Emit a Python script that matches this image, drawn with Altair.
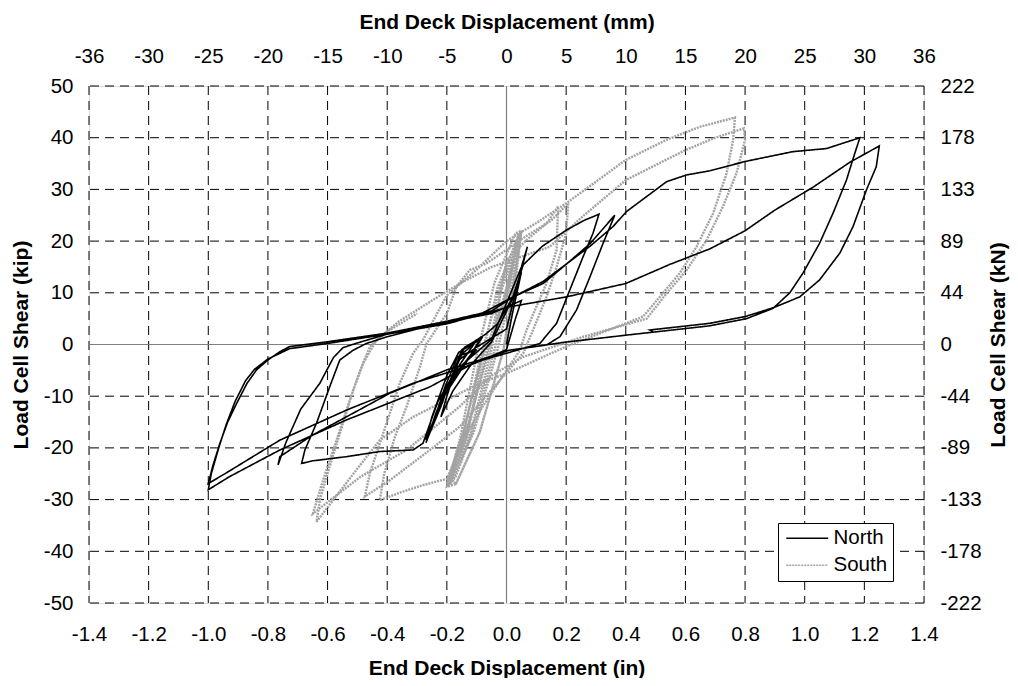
import json
import altair as alt
import pandas as pd

# ---------------- data ----------------
north_x = [0.00, 0.02, 0.05, 0.03, -0.05, -0.12, -0.18, -0.22, -0.20, -0.16, -0.10, 0.00, 0.03, 0.07, 0.05,
           -0.05, -0.15, -0.22, -0.27, -0.25, -0.20, -0.16, -0.09, -0.12, -0.20, -0.25, -0.23, -0.19, -0.15,
           -0.10, -0.18, -0.24, -0.26, -0.22, -0.17, -0.14, -0.08,
           -0.13, -0.21, -0.265, -0.245, -0.205, -0.165, -0.11, -0.17, -0.235, -0.27, -0.24, -0.19,
           -0.15, -0.07,
           -0.03, 0.02, 0.056, 0.12, 0.20, 0.26, 0.31, 0.29, 0.257, 0.212, 0.168, 0.112, 0.0, -0.08, -0.17,
           -0.23, -0.28, -0.313, -0.425, -0.537, -0.65, -0.687, -0.676, -0.637, -0.593, -0.559, -0.514, -0.47,
           -0.40, -0.30, -0.20, -0.10, 0.022, 0.123, 0.20, 0.28, 0.363, 0.324, 0.28, 0.235, 0.179, 0.134, 0.01,
           -0.09, -0.20, -0.39, -0.537, -0.65, -0.76, -0.766, -0.74, -0.69, -0.626, -0.58, -0.548, -0.50, -0.40,
           -0.20, -0.05, 0.05, 0.03, 0.0, -0.134, -0.313, -0.537, -0.76, -0.93, -1.0,
           -0.985, -0.961, -0.935, -0.905, -0.87, -0.838, -0.80, -0.76, -0.727, -0.604, -0.40, -0.20, -0.05,
           0.022, 0.123, 0.28,
           0.357, 0.402, 0.537, 0.604, 0.682, 0.80, 0.96, 1.073, 1.185,
           1.168, 1.14, 1.095, 1.05, 0.994, 0.95, 0.894, 0.805, 0.68, 0.40, 0.19, 0.01, -0.09, -0.257, -0.537,
           -0.76, -0.93, -1.0,
           -0.99, -0.965, -0.94, -0.91, -0.875, -0.845, -0.80, -0.727, -0.60, -0.40, -0.20, 0.011, 0.20, 0.40,
           0.548, 0.682, 0.80, 0.90, 1.03, 1.15, 1.25,
           1.24, 1.207, 1.162, 1.118, 1.05, 0.983, 0.894, 0.80, 0.682, 0.48, 0.49]
north_y = [0.0, 6.0, 14.0, 10.0, 0.5, -4.0, -9.0, -14.0, -10.0, -3.0, -0.5, 3.0, 10.0, 18.9, 15.0,
           1.0, -4.0, -11.0, -18.5, -14.0, -6.0, -1.5, 0.9, -2.0, -8.0, -16.0, -13.0, -7.0, -2.0,
           -1.0, -6.0, -14.0, -17.5, -12.0, -4.0, -0.5, 1.5,
           -3.0, -10.0, -18.0, -15.0, -8.0, -2.5, 0.0, -5.0, -13.0, -19.0, -14.5, -7.5,
           -1.0, 2.0,
           4.0, 9.0, 15.4, 19.0, 22.1, 24.0, 25.2, 21.5, 17.0, 10.5, 4.1, 0.2, -1.7, -3.0, -5.0,
           -11.0, -19.1, -20.4, -20.7, -21.7, -22.5, -23.0, -20.4, -15.2, -8.2, -3.0, -1.1, 0.2,
           1.5, 3.0, 4.5, 5.5, 9.2, 11.8, 15.5, 19.5, 25.0, 19.6, 13.1, 6.7, 1.5, -0.1, -1.1,
           -3.0, -4.9, -9.4, -14.0, -17.5, -21.7, -23.3, -19.0, -12.5, -7.5, -2.5, -0.6, 0.3, 2.0,
           4.3, 6.0, 8.5, 5.0, -1.0, -4.3, -7.5, -12.7, -18.5, -24.5, -26.9,
           -23.5, -19.1, -15.0, -11.4, -7.5, -4.9, -3.0, -1.4, -0.4, 0.5, 2.2, 4.5, 6.5,
           9.2, 12.2, 19.0,
           22.8, 25.7, 31.5, 32.8, 33.6, 35.4, 37.3, 37.9, 40.0,
           37.0, 31.8, 25.4, 19.6, 13.8, 10.0, 7.0, 5.0, 3.6, 1.8, 0.4, -1.1, -3.0, -8.2, -14.6,
           -20.4, -25.6, -28.1,
           -25.0, -20.0, -15.5, -11.0, -7.0, -4.8, -2.8, -0.8, 0.2, 2.0, 4.0, 7.3, 9.2, 11.8,
           15.5, 18.5, 22.0, 26.0, 30.5, 35.2, 38.4,
           34.4, 29.9, 22.8, 17.7, 12.5, 9.2, 7.1, 5.4, 4.1, 2.8, 2.5]

south_x = [0.0, 0.03, 0.05,
           0.02, -0.01, -0.09, -0.17,
           -0.20, -0.155, -0.10, -0.04, 0.03,
           0.05, 0.02, -0.01, -0.09, -0.17,
           -0.18, -0.13, -0.08, -0.03, 0.04,
           0.045, 0.01, -0.03, -0.11, -0.19,
           -0.20, -0.14, -0.06, 0.0, 0.05,
           0.04, -0.02, -0.05, -0.12, -0.185,
           -0.19, -0.145, -0.09, -0.02, 0.045,
           0.035, 0.0, -0.07, -0.13, -0.195,
           -0.17, -0.115, -0.04, 0.01, 0.05,
           0.03, -0.01, -0.085, -0.14, -0.20,
           -0.16, -0.12, -0.05, -0.02,
           0.0, 0.067, 0.134, 0.173, 0.168, 0.134, 0.10, 0.067, 0.045, 0.0, -0.08, -0.15, -0.20, -0.28, -0.35,
           -0.425, -0.41, -0.375, -0.335, -0.29, -0.268, -0.20, -0.168, -0.123, -0.067, 0.0, 0.067, 0.15,
           0.207, 0.20, 0.168, 0.134, 0.089, 0.056, -0.157, -0.257, -0.39, -0.475,
           -0.458, -0.402, -0.358, -0.313, -0.28, -0.20, -0.10, 0.0, 0.10, 0.20, 0.30, 0.40, 0.537, 0.648,
           0.766, 0.76, 0.738, 0.693, 0.637, 0.581, 0.514, 0.458, 0.369, 0.20, 0.0, -0.09, -0.20, -0.313,
           -0.425, -0.50, -0.58, -0.637,
           -0.626, -0.593, -0.559, -0.514, -0.48, -0.436, -0.36, -0.25, -0.15, -0.05, 0.145, 0.25, 0.40, 0.60,
           0.70, 0.796, 0.80, 0.771, 0.726, 0.671, 0.604, 0.537, 0.47, 0.257, 0.056, -0.05, -0.157, -0.335,
           -0.49, -0.60, -0.649,
           -0.615, -0.57, -0.525, -0.49, -0.458, -0.40, -0.30]
south_y = [0.0, 12.0, 22.0,
           10.0, -1.0, -17.0, -27.0,
           -27.5, -18.0, -2.0, 12.0, 21.5,
           22.0, 10.0, -1.0, -17.0, -27.0,
           -26.5, -17.0, -2.0, 11.0, 21.0,
           21.0, 9.0, -1.0, -17.0, -27.0,
           -27.0, -18.0, -1.5, 11.0, 22.0,
           20.0, 10.0, -1.0, -17.0, -26.0,
           -27.0, -17.5, -3.0, 11.5, 21.5,
           20.5, 8.0, -2.0, -17.0, -27.5,
           -25.5, -17.0, -1.0, 12.0, 22.0,
           19.0, 8.0, -3.0, -16.0, -27.0,
           -21.0, -14.0, 2.0, 10.0,
           16.3, 20.2, 23.4, 26.7, 18.3, 11.8, 7.3, 2.8, -1.1, -5.0, -12.0, -19.0, -26.0, -27.2, -28.5,
           -30.1, -25.0, -18.0, -12.0, -4.3, 0.2, 6.0, 11.2, 14.4, 15.7, 18.3, 21.0, 24.0,
           27.3, 21.5, 15.0, 9.2, 2.8, -1.7, -15.9, -20.4, -26.2, -29.4,
           -24.9, -15.2, -7.5, -1.7, 0.9, 9.5, 14.5, 20.0, 23.5, 27.3, 31.5, 35.7, 39.6, 42.1,
           43.9, 39.6, 33.1, 25.4, 18.9, 13.8, 9.2, 5.4, 3.4, -0.4, -5.6, -7.5, -10.7, -14.0,
           -18.5, -24.0, -30.0, -34.3,
           -30.1, -23.6, -17.2, -8.8, -3.6, 0.9, 4.5, 8.5, 12.0, 15.0, 18.9, 24.5, 31.8, 37.6,
           40.0, 41.8, 39.6, 33.1, 26.7, 20.2, 14.4, 9.9, 5.0, 1.5, -2.4, -6.0, -12.0, -20.4,
           -25.6, -30.5, -32.7,
           -26.2, -18.5, -10.7, -4.9, -0.4, 2.5, 6.0]

series_names = ["North", "South"]
series_colors = ["#000000", "#a3a3a3"]

x_ticks = [-1.4, -1.2, -1.0, -0.8, -0.6, -0.4, -0.2, 0.0, 0.2, 0.4, 0.6, 0.8, 1.0, 1.2, 1.4]
x_labels_in = ["-1.4", "-1.2", "-1.0", "-0.8", "-0.6", "-0.4", "-0.2", "0.0", "0.2", "0.4", "0.6",
               "0.8", "1.0", "1.2", "1.4"]
x_labels_mm = ["-36", "-30", "-25", "-20", "-15", "-10", "-5", "0", "5", "10", "15", "20", "25", "30", "36"]
y_ticks = [-50, -40, -30, -20, -10, 0, 10, 20, 30, 40, 50]
y_labels_kip = ["-50", "-40", "-30", "-20", "-10", "0", "10", "20", "30", "40", "50"]
y_labels_kn = ["-222", "-178", "-133", "-89", "-44", "0", "44", "89", "133", "178", "222"]

# ---------------- tables ----------------
north = pd.DataFrame({"x": north_x, "y": north_y, "series": "North", "i": range(len(north_x))})
south = pd.DataFrame({"x": south_x, "y": south_y, "series": "South", "i": range(len(south_x))})
xgrid = pd.DataFrame({"x": [v for v in x_ticks if v != 0]})
ygrid = pd.DataFrame({"y": [v for v in y_ticks if v != 0]})
zero = pd.DataFrame({"z": [0]})

FONT = "Liberation Sans"
LS = 20.5
TS = 21

xs = alt.Scale(domain=[-1.4, 1.4], nice=False, zero=False)
ys = alt.Scale(domain=[-50, 50], nice=False, zero=False)

xlab_expr = json.dumps(x_labels_in) + "[round(datum.value*5)+7]"
xmm_expr = json.dumps(x_labels_mm) + "[round(datum.value*5)+7]"
ykip_expr = json.dumps(y_labels_kip) + "[round(datum.value/10)+5]"
ykn_expr = json.dumps(y_labels_kn) + "[round(datum.value/10)+5]"


def axis(**kw):
    return alt.Axis(labelFont=FONT, labelFontSize=LS, labelColor="black",
                    titleFont=FONT, titleFontSize=TS, titleFontWeight="bold", titleColor="black",
                    domain=False, ticks=False, tickSize=0, grid=False, labelFlush=False,
                    labelOverlap=False, **kw)


def legend():
    return alt.Legend(title=None, orient="none", legendX=689, legendY=437,
                      fillColor="white", strokeColor="black", padding=5,
                      labelFont=FONT, labelFontSize=LS, labelColor="black",
                      symbolType="M-3,0H3", symbolSize=196, symbolStrokeWidth=1.5,
                      symbolOffset=14, labelOffset=16, rowPadding=6)


color = alt.Color("series:N", scale=alt.Scale(domain=series_names, range=series_colors), legend=legend())
dash = alt.StrokeDash("series:N", scale=alt.Scale(domain=series_names, range=[[1, 0], [2, 1]]),
                      legend=legend())

vgrid = alt.Chart(xgrid).mark_rule(color="black", strokeWidth=1, strokeDash=[9, 6]).encode(
    x=alt.X("x:Q", scale=xs,
            axis=axis(orient="top", values=x_ticks, labelExpr=xmm_expr,
                      title="End Deck Displacement (mm)", labelPadding=20, titlePadding=14))
)
hgrid = alt.Chart(ygrid).mark_rule(color="black", strokeWidth=1, strokeDash=[9, 6]).encode(
    y=alt.Y("y:Q", scale=ys,
            axis=axis(orient="right", values=y_ticks, labelExpr=ykn_expr,
                      title="Load Cell Shear (kN)", titleAngle=270, labelPadding=16,
                      titlePadding=27))
)
vzero = alt.Chart(zero).mark_rule(color="#808080", strokeWidth=1.2).encode(
    x=alt.X("z:Q", scale=xs, axis=None))
hzero = alt.Chart(zero).mark_rule(color="#808080", strokeWidth=1.2).encode(
    y=alt.Y("z:Q", scale=ys, axis=None))

south_line = alt.Chart(south).mark_line(strokeWidth=2.4).encode(
    x=alt.X("x:Q", scale=xs, axis=None),
    y=alt.Y("y:Q", scale=ys, axis=None),
    order="i:Q", color=color, strokeDash=dash)

north_line = alt.Chart(north).mark_line(strokeWidth=1.6).encode(
    x=alt.X("x:Q", scale=xs,
            axis=axis(orient="bottom", values=x_ticks, labelExpr=xlab_expr,
                      title="End Deck Displacement (in)", labelPadding=21, titlePadding=13)),
    y=alt.Y("y:Q", scale=ys,
            axis=axis(orient="left", values=y_ticks, labelExpr=ykip_expr,
                      title="Load Cell Shear (kip)", labelPadding=16, titlePadding=12)),
    order="i:Q", color=color, strokeDash=dash)

chart = alt.layer(vgrid, hgrid, vzero, hzero, south_line, north_line).resolve_axis(
    x="independent", y="independent"
).properties(
    width=835, height=517,
    autosize=alt.AutoSizeParams(type="none"),
    padding={"left": 81, "top": 78, "right": 86, "bottom": 75},
).configure_view(stroke="black", strokeWidth=1).configure(background="white")

chart.save("out.html", embed_options={"renderer": "svg", "actions": False})
